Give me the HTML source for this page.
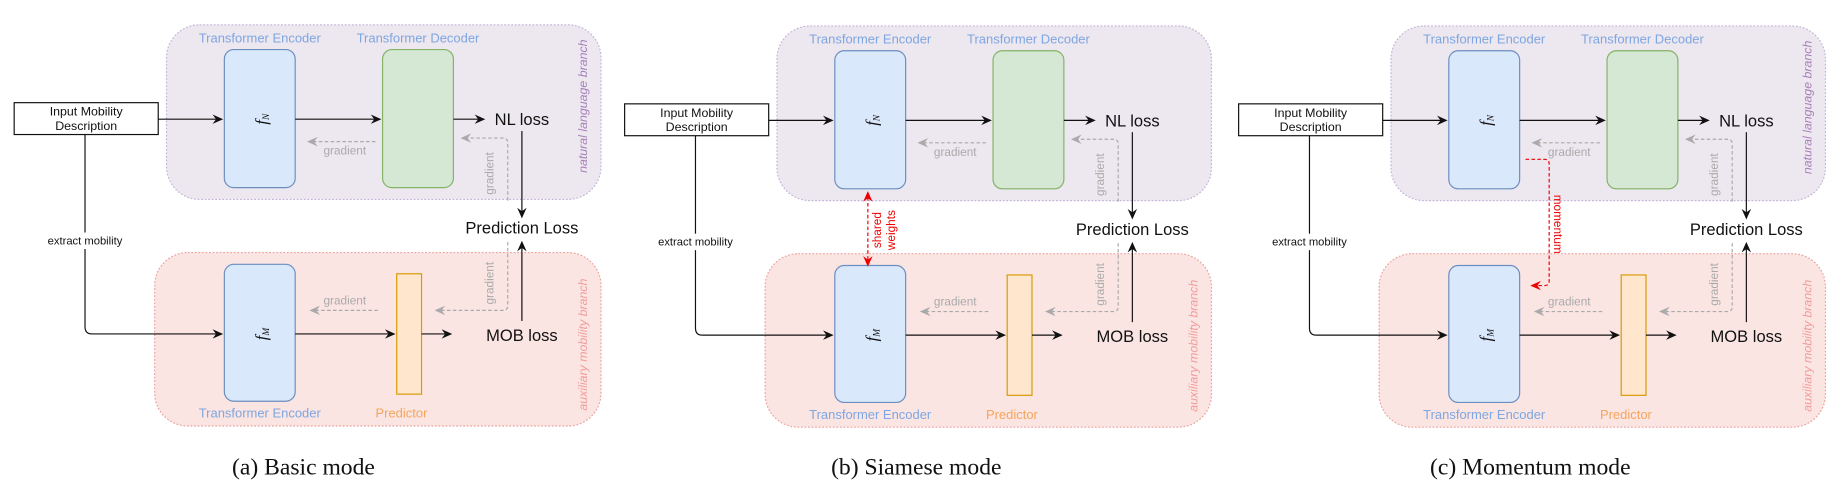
<!DOCTYPE html>
<html><head><meta charset="utf-8"><style>
html,body{margin:0;padding:0;background:#fff;}
svg{display:block;}
text{font-family:"Liberation Sans",sans-serif;}
.ser{font-family:"Liberation Serif",serif;}
</style></head><body>
<svg width="1842" height="498" viewBox="0 0 1560 422" preserveAspectRatio="none" xmlns="http://www.w3.org/2000/svg">

<g transform="translate(0,0)">
<rect x="141" y="21" width="368" height="148" rx="28" fill="#ede7f0" stroke="#c3b4d8" stroke-width="1" stroke-dasharray="1.5,1.5"/>
<rect x="131" y="214" width="378" height="147" rx="28" fill="#fae5e3" stroke="#eba29c" stroke-width="1" stroke-dasharray="1.5,1.5"/>
<text x="220" y="36" font-size="11" fill="#7ea6e0" text-anchor="middle">Transformer Encoder</text>
<text x="354" y="36" font-size="11" fill="#7ea6e0" text-anchor="middle">Transformer Decoder</text>
<rect x="190" y="42" width="60" height="117" rx="8" fill="#dae8fc" stroke="#6c8ebf"/>
<rect x="324" y="42" width="60" height="117" rx="8" fill="#d5e8d4" stroke="#82b366"/>
<rect x="190" y="224" width="60" height="116" rx="8" fill="#dae8fc" stroke="#6c8ebf"/>
<rect x="336" y="232" width="21" height="102" fill="#ffe6cc" stroke="#d79b00"/>
<text x="220" y="354" font-size="11" fill="#7ea6e0" text-anchor="middle">Transformer Encoder</text>
<text x="340" y="354" font-size="11" fill="#f5a55a" text-anchor="middle">Predictor</text>
<text transform="translate(226,101) rotate(-90)" class="ser" font-size="14" font-style="italic" text-anchor="middle" fill="#111">f<tspan font-size="8" dy="2">N</tspan></text>
<text transform="translate(226,283) rotate(-90)" class="ser" font-size="14" font-style="italic" text-anchor="middle" fill="#111">f<tspan font-size="8" dy="2">M</tspan></text>
<rect x="12" y="87" width="122" height="27" fill="#fff" stroke="#111"/>
<text x="73" y="98" font-size="10.5" text-anchor="middle" fill="#111">Input Mobility</text>
<text x="73" y="110" font-size="10.5" text-anchor="middle" fill="#111">Description</text>
<g stroke="#111" fill="none">
<line x1="134" y1="101" x2="186" y2="101"/>
<line x1="250" y1="101" x2="320" y2="101"/>
<line x1="384" y1="101" x2="408" y2="101"/>
<line x1="442" y1="111" x2="442" y2="182"/>
<line x1="442" y1="272" x2="442" y2="207"/>
<line x1="250" y1="283" x2="332" y2="283"/>
<line x1="357" y1="283" x2="380" y2="283"/>
<path d="M72,114 V277 Q72,283 78,283 H186"/>
</g>
<g fill="#111">
<polygon points="180,97 189,101 180,105 183,101"/>
<polygon points="314,97 323,101 314,105 317,101"/>
<polygon points="402,97 411,101 402,105 405,101"/>
<polygon points="326,279 335,283 326,287 329,283"/>
<polygon points="374,279 383,283 374,287 377,283"/>
<polygon points="180,279 189,283 180,287 183,283"/>
<polygon points="438,176 442,185 446,176 442,179"/>
<polygon points="438,213 442,204 446,213 442,210"/>
</g>
<text x="442" y="106" font-size="14" text-anchor="middle" fill="#111">NL loss</text>
<text x="442" y="198" font-size="14" text-anchor="middle" fill="#111">Prediction Loss</text>
<text x="442" y="289" font-size="14" text-anchor="middle" fill="#111">MOB loss</text>
<rect x="30" y="197" width="84" height="14" fill="#fff"/>
<text x="72" y="207" font-size="9.5" text-anchor="middle" fill="#111">extract mobility</text>
<g stroke="#aaa" stroke-dasharray="3,2" fill="none">
<line x1="318" y1="120" x2="264" y2="120"/>
<path d="M430,170 V121 Q430,117 426,117 H394"/>
<line x1="320" y1="263" x2="266" y2="263"/>
<path d="M430,205 V259 Q430,263 426,263 H372"/>
</g>
<g fill="#aaa">
<polygon points="269,116 260,120 269,124 266,120"/>
<polygon points="399,113 390,117 399,121 396,117"/>
<polygon points="271,259 262,263 271,267 268,263"/>
<polygon points="377,259 368,263 377,267 374,263"/>
</g>
<text x="292" y="131" font-size="10" fill="#aaa" text-anchor="middle">gradient</text>
<text transform="translate(418,147) rotate(-90)" font-size="10" fill="#aaa" text-anchor="middle">gradient</text>
<text x="292" y="258" font-size="10" fill="#aaa" text-anchor="middle">gradient</text>
<text transform="translate(418,240) rotate(-90)" font-size="10" fill="#aaa" text-anchor="middle">gradient</text>
<text transform="translate(497,90) rotate(-90)" font-size="10.5" font-style="italic" fill="#a680b8" text-anchor="middle">natural language branch</text>
<text transform="translate(497,292) rotate(-90)" font-size="10.5" font-style="italic" fill="#f19c99" text-anchor="middle">auxiliary mobility branch</text>
</g>

<g transform="translate(517,1)">
<rect x="141" y="21" width="368" height="148" rx="28" fill="#ede7f0" stroke="#c3b4d8" stroke-width="1" stroke-dasharray="1.5,1.5"/>
<rect x="131" y="214" width="378" height="147" rx="28" fill="#fae5e3" stroke="#eba29c" stroke-width="1" stroke-dasharray="1.5,1.5"/>
<text x="220" y="36" font-size="11" fill="#7ea6e0" text-anchor="middle">Transformer Encoder</text>
<text x="354" y="36" font-size="11" fill="#7ea6e0" text-anchor="middle">Transformer Decoder</text>
<rect x="190" y="42" width="60" height="117" rx="8" fill="#dae8fc" stroke="#6c8ebf"/>
<rect x="324" y="42" width="60" height="117" rx="8" fill="#d5e8d4" stroke="#82b366"/>
<rect x="190" y="224" width="60" height="116" rx="8" fill="#dae8fc" stroke="#6c8ebf"/>
<rect x="336" y="232" width="21" height="102" fill="#ffe6cc" stroke="#d79b00"/>
<text x="220" y="354" font-size="11" fill="#7ea6e0" text-anchor="middle">Transformer Encoder</text>
<text x="340" y="354" font-size="11" fill="#f5a55a" text-anchor="middle">Predictor</text>
<text transform="translate(226,101) rotate(-90)" class="ser" font-size="14" font-style="italic" text-anchor="middle" fill="#111">f<tspan font-size="8" dy="2">N</tspan></text>
<text transform="translate(226,283) rotate(-90)" class="ser" font-size="14" font-style="italic" text-anchor="middle" fill="#111">f<tspan font-size="8" dy="2">M</tspan></text>
<rect x="12" y="87" width="122" height="27" fill="#fff" stroke="#111"/>
<text x="73" y="98" font-size="10.5" text-anchor="middle" fill="#111">Input Mobility</text>
<text x="73" y="110" font-size="10.5" text-anchor="middle" fill="#111">Description</text>
<g stroke="#111" fill="none">
<line x1="134" y1="101" x2="186" y2="101"/>
<line x1="250" y1="101" x2="320" y2="101"/>
<line x1="384" y1="101" x2="408" y2="101"/>
<line x1="442" y1="111" x2="442" y2="182"/>
<line x1="442" y1="272" x2="442" y2="207"/>
<line x1="250" y1="283" x2="332" y2="283"/>
<line x1="357" y1="283" x2="380" y2="283"/>
<path d="M72,114 V277 Q72,283 78,283 H186"/>
</g>
<g fill="#111">
<polygon points="180,97 189,101 180,105 183,101"/>
<polygon points="314,97 323,101 314,105 317,101"/>
<polygon points="402,97 411,101 402,105 405,101"/>
<polygon points="326,279 335,283 326,287 329,283"/>
<polygon points="374,279 383,283 374,287 377,283"/>
<polygon points="180,279 189,283 180,287 183,283"/>
<polygon points="438,176 442,185 446,176 442,179"/>
<polygon points="438,213 442,204 446,213 442,210"/>
</g>
<text x="442" y="106" font-size="14" text-anchor="middle" fill="#111">NL loss</text>
<text x="442" y="198" font-size="14" text-anchor="middle" fill="#111">Prediction Loss</text>
<text x="442" y="289" font-size="14" text-anchor="middle" fill="#111">MOB loss</text>
<rect x="30" y="197" width="84" height="14" fill="#fff"/>
<text x="72" y="207" font-size="9.5" text-anchor="middle" fill="#111">extract mobility</text>
<g stroke="#aaa" stroke-dasharray="3,2" fill="none">
<line x1="318" y1="120" x2="264" y2="120"/>
<path d="M430,170 V121 Q430,117 426,117 H394"/>
<line x1="320" y1="263" x2="266" y2="263"/>
<path d="M430,205 V259 Q430,263 426,263 H372"/>
</g>
<g fill="#aaa">
<polygon points="269,116 260,120 269,124 266,120"/>
<polygon points="399,113 390,117 399,121 396,117"/>
<polygon points="271,259 262,263 271,267 268,263"/>
<polygon points="377,259 368,263 377,267 374,263"/>
</g>
<text x="292" y="131" font-size="10" fill="#aaa" text-anchor="middle">gradient</text>
<text transform="translate(418,147) rotate(-90)" font-size="10" fill="#aaa" text-anchor="middle">gradient</text>
<text x="292" y="258" font-size="10" fill="#aaa" text-anchor="middle">gradient</text>
<text transform="translate(418,240) rotate(-90)" font-size="10" fill="#aaa" text-anchor="middle">gradient</text>
<text transform="translate(497,292) rotate(-90)" font-size="10.5" font-style="italic" fill="#f19c99" text-anchor="middle">auxiliary mobility branch</text>
<line x1="218" y1="166" x2="218" y2="220" stroke="#e00" stroke-dasharray="3,2"/>
<polygon points="214,170 218,161 222,170 218,167" fill="#e00"/>
<polygon points="214,216 218,225 222,216 218,219" fill="#e00"/>
<text transform="translate(229,194) rotate(-90)" font-size="10" fill="#e00" text-anchor="middle">shared</text>
<text transform="translate(241,194) rotate(-90)" font-size="10" fill="#e00" text-anchor="middle">weights</text>
</g>

<g transform="translate(1037,1)">
<rect x="141" y="21" width="368" height="148" rx="28" fill="#ede7f0" stroke="#c3b4d8" stroke-width="1" stroke-dasharray="1.5,1.5"/>
<rect x="131" y="214" width="378" height="147" rx="28" fill="#fae5e3" stroke="#eba29c" stroke-width="1" stroke-dasharray="1.5,1.5"/>
<text x="220" y="36" font-size="11" fill="#7ea6e0" text-anchor="middle">Transformer Encoder</text>
<text x="354" y="36" font-size="11" fill="#7ea6e0" text-anchor="middle">Transformer Decoder</text>
<rect x="190" y="42" width="60" height="117" rx="8" fill="#dae8fc" stroke="#6c8ebf"/>
<rect x="324" y="42" width="60" height="117" rx="8" fill="#d5e8d4" stroke="#82b366"/>
<rect x="190" y="224" width="60" height="116" rx="8" fill="#dae8fc" stroke="#6c8ebf"/>
<rect x="336" y="232" width="21" height="102" fill="#ffe6cc" stroke="#d79b00"/>
<text x="220" y="354" font-size="11" fill="#7ea6e0" text-anchor="middle">Transformer Encoder</text>
<text x="340" y="354" font-size="11" fill="#f5a55a" text-anchor="middle">Predictor</text>
<text transform="translate(226,101) rotate(-90)" class="ser" font-size="14" font-style="italic" text-anchor="middle" fill="#111">f<tspan font-size="8" dy="2">N</tspan></text>
<text transform="translate(226,283) rotate(-90)" class="ser" font-size="14" font-style="italic" text-anchor="middle" fill="#111">f<tspan font-size="8" dy="2">M</tspan></text>
<rect x="12" y="87" width="122" height="27" fill="#fff" stroke="#111"/>
<text x="73" y="98" font-size="10.5" text-anchor="middle" fill="#111">Input Mobility</text>
<text x="73" y="110" font-size="10.5" text-anchor="middle" fill="#111">Description</text>
<g stroke="#111" fill="none">
<line x1="134" y1="101" x2="186" y2="101"/>
<line x1="250" y1="101" x2="320" y2="101"/>
<line x1="384" y1="101" x2="408" y2="101"/>
<line x1="442" y1="111" x2="442" y2="182"/>
<line x1="442" y1="272" x2="442" y2="207"/>
<line x1="250" y1="283" x2="332" y2="283"/>
<line x1="357" y1="283" x2="380" y2="283"/>
<path d="M72,114 V277 Q72,283 78,283 H186"/>
</g>
<g fill="#111">
<polygon points="180,97 189,101 180,105 183,101"/>
<polygon points="314,97 323,101 314,105 317,101"/>
<polygon points="402,97 411,101 402,105 405,101"/>
<polygon points="326,279 335,283 326,287 329,283"/>
<polygon points="374,279 383,283 374,287 377,283"/>
<polygon points="180,279 189,283 180,287 183,283"/>
<polygon points="438,176 442,185 446,176 442,179"/>
<polygon points="438,213 442,204 446,213 442,210"/>
</g>
<text x="442" y="106" font-size="14" text-anchor="middle" fill="#111">NL loss</text>
<text x="442" y="198" font-size="14" text-anchor="middle" fill="#111">Prediction Loss</text>
<text x="442" y="289" font-size="14" text-anchor="middle" fill="#111">MOB loss</text>
<rect x="30" y="197" width="84" height="14" fill="#fff"/>
<text x="72" y="207" font-size="9.5" text-anchor="middle" fill="#111">extract mobility</text>
<g stroke="#aaa" stroke-dasharray="3,2" fill="none">
<line x1="318" y1="120" x2="264" y2="120"/>
<path d="M430,170 V121 Q430,117 426,117 H394"/>
<line x1="320" y1="263" x2="266" y2="263"/>
<path d="M430,205 V259 Q430,263 426,263 H372"/>
</g>
<g fill="#aaa">
<polygon points="269,116 260,120 269,124 266,120"/>
<polygon points="399,113 390,117 399,121 396,117"/>
<polygon points="271,259 262,263 271,267 268,263"/>
<polygon points="377,259 368,263 377,267 374,263"/>
</g>
<text x="292" y="131" font-size="10" fill="#aaa" text-anchor="middle">gradient</text>
<text transform="translate(418,147) rotate(-90)" font-size="10" fill="#aaa" text-anchor="middle">gradient</text>
<text x="292" y="258" font-size="10" fill="#aaa" text-anchor="middle">gradient</text>
<text transform="translate(418,240) rotate(-90)" font-size="10" fill="#aaa" text-anchor="middle">gradient</text>
<text transform="translate(497,90) rotate(-90)" font-size="10.5" font-style="italic" fill="#a680b8" text-anchor="middle">natural language branch</text>
<text transform="translate(497,292) rotate(-90)" font-size="10.5" font-style="italic" fill="#f19c99" text-anchor="middle">auxiliary mobility branch</text>
<path d="M255,134 H271 Q275,134 275,138 V237 Q275,241 271,241 H263" fill="none" stroke="#e00" stroke-dasharray="3,2"/>
<polygon points="268,237 259,241 268,245 265,241" fill="#e00"/>
<text transform="translate(279,189) rotate(90)" font-size="10" fill="#e00" text-anchor="middle">momentum</text>
</g>

<text x="257" y="402" class="ser" font-size="20" text-anchor="middle" fill="#111">(a)  Basic mode</text>
<text x="776" y="402" class="ser" font-size="20" text-anchor="middle" fill="#111">(b)  Siamese mode</text>
<text x="1296" y="402" class="ser" font-size="20" text-anchor="middle" fill="#111">(c)  Momentum mode</text>
</svg>
</body></html>
